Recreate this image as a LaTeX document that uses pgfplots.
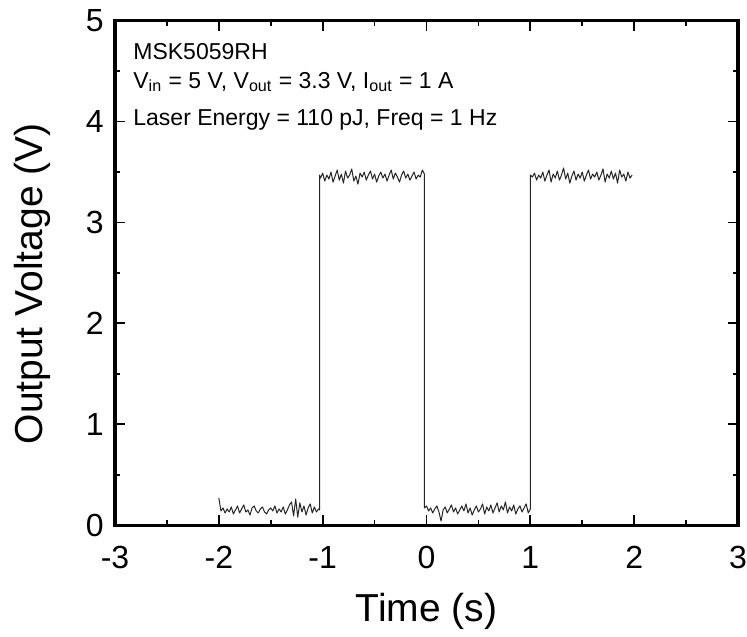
\documentclass[border=0pt]{standalone}
\usepackage{pgfplots}
\pgfplotsset{compat=1.18}
\usepackage{pgfplotstable}
\usepackage{fontspec}
\setmainfont{Liberation Sans}
\usetikzlibrary{calc}

% output voltage trace
\pgfplotstableread{
t v
-2.00 0.27
-1.98 0.14
-1.96 0.17
-1.94 0.12
-1.92 0.16
-1.90 0.13
-1.88 0.18
-1.86 0.11
-1.84 0.15
-1.82 0.19
-1.80 0.12
-1.78 0.16
-1.76 0.20
-1.74 0.13
-1.72 0.15
-1.70 0.10
-1.68 0.17
-1.66 0.19
-1.64 0.14
-1.62 0.12
-1.60 0.16
-1.58 0.18
-1.56 0.13
-1.54 0.11
-1.52 0.15
-1.50 0.17
-1.48 0.14
-1.46 0.19
-1.44 0.12
-1.42 0.16
-1.40 0.13
-1.38 0.18
-1.36 0.11
-1.34 0.15
-1.32 0.20
-1.30 0.23
-1.28 0.09
-1.26 0.26
-1.24 0.08
-1.22 0.22
-1.20 0.13
-1.18 0.19
-1.16 0.10
-1.14 0.17
-1.12 0.21
-1.10 0.12
-1.08 0.18
-1.06 0.13
-1.04 0.16
-1.03 0.15
-1.03 3.47
-1.02 3.44
-1.00 3.49
-0.98 3.41
-0.96 3.47
-0.94 3.43
-0.92 3.50
-0.90 3.40
-0.88 3.46
-0.86 3.52
-0.84 3.42
-0.82 3.48
-0.80 3.39
-0.78 3.51
-0.76 3.44
-0.74 3.47
-0.72 3.53
-0.70 3.41
-0.68 3.46
-0.66 3.38
-0.64 3.49
-0.62 3.45
-0.60 3.50
-0.58 3.42
-0.56 3.47
-0.54 3.51
-0.52 3.43
-0.50 3.48
-0.48 3.40
-0.46 3.46
-0.44 3.50
-0.42 3.44
-0.40 3.48
-0.38 3.41
-0.36 3.47
-0.34 3.52
-0.32 3.43
-0.30 3.49
-0.28 3.45
-0.26 3.40
-0.24 3.47
-0.22 3.51
-0.20 3.44
-0.18 3.48
-0.16 3.42
-0.14 3.46
-0.12 3.50
-0.10 3.43
-0.08 3.47
-0.06 3.45
-0.04 3.52
-0.02 3.48
-0.02 0.17
0.00 0.19
0.02 0.14
0.04 0.17
0.06 0.12
0.08 0.16
0.10 0.19
0.12 0.13
0.14 0.04
0.16 0.15
0.18 0.18
0.20 0.12
0.22 0.16
0.24 0.20
0.26 0.13
0.28 0.17
0.30 0.11
0.32 0.15
0.34 0.19
0.36 0.14
0.38 0.21
0.40 0.12
0.42 0.17
0.44 0.10
0.46 0.15
0.48 0.19
0.50 0.13
0.52 0.16
0.54 0.21
0.56 0.11
0.58 0.18
0.60 0.14
0.62 0.20
0.64 0.12
0.66 0.17
0.68 0.22
0.70 0.13
0.72 0.19
0.74 0.15
0.76 0.23
0.78 0.12
0.80 0.18
0.82 0.14
0.84 0.20
0.86 0.11
0.88 0.16
0.90 0.19
0.92 0.13
0.94 0.17
0.96 0.21
0.98 0.12
1.00 0.16
1.00 3.47
1.02 3.45
1.04 3.49
1.06 3.42
1.08 3.47
1.10 3.44
1.12 3.50
1.14 3.41
1.16 3.47
1.18 3.52
1.20 3.40
1.22 3.48
1.24 3.44
1.26 3.51
1.28 3.42
1.30 3.47
1.32 3.54
1.34 3.43
1.36 3.49
1.38 3.39
1.40 3.46
1.42 3.51
1.44 3.42
1.46 3.48
1.48 3.44
1.50 3.50
1.52 3.41
1.54 3.47
1.56 3.52
1.58 3.43
1.60 3.48
1.62 3.45
1.64 3.50
1.66 3.42
1.68 3.47
1.70 3.53
1.72 3.40
1.74 3.48
1.76 3.44
1.78 3.51
1.80 3.43
1.82 3.49
1.84 3.39
1.86 3.52
1.88 3.45
1.90 3.48
1.92 3.41
1.94 3.50
1.96 3.44
1.98 3.47
}\trace

\begin{document}
\begin{tikzpicture}
\begin{axis}[
    scale only axis, width=311.5pt, height=252.2pt,
    xmin=-3, xmax=3, ymin=0, ymax=5,
    xtick={-3,-2,...,3}, ytick={0,1,...,5},
    minor tick num=1,
    tick align=inside,
    major tick length=5pt, minor tick length=2.7pt,
    every tick/.append style={black, line width=0.9pt},
    axis line style={line width=1.6pt},
    /pgf/number format/assume math mode=true,
    tick label style={font=\fontsize{16}{16}\selectfont, inner sep=0pt},
    xticklabel style={anchor=base, yshift=-21.5pt},
    yticklabel style={xshift=-5.5pt},
]
\addplot[black!85, line width=0.5pt, line join=round] table[x=t, y=v] {\trace};
\end{axis}
% axis titles
\node[anchor=base, inner sep=0pt, font=\fontsize{19.5}{19.5}\selectfont]
  at ([yshift=-48pt]current axis.south) {Time (s)};
\node[anchor=base, rotate=90, inner sep=0pt, font=\fontsize{19.5}{19.5}\selectfont]
  at ([xshift=-36pt, yshift=-5.5pt]current axis.west) {Output Voltage (V)};
% annotation
\begin{scope}[font=\fontsize{11.5}{13}\selectfont]
\node[anchor=base west, inner sep=0pt] at ([xshift=9pt, yshift=-19.3pt]current axis.north west) {MSK5059RH};
\node[anchor=base west, inner sep=0pt] at ([xshift=9pt, yshift=-33.8pt]current axis.north west)
  {V\textsubscript{in} = 5 V, V\textsubscript{out} = 3.3 V, I\textsubscript{out} = 1 A};
\node[anchor=base west, inner sep=0pt] at ([xshift=9pt, yshift=-52.2pt]current axis.north west)
  {Laser Energy = 110 pJ, Freq = 1 Hz};
\end{scope}
\path ($(current axis.south west)+(-57.5pt,-55.5pt)$) rectangle ($(current axis.north east)+(4.5pt,10.35pt)$);
\end{tikzpicture}
\end{document}
